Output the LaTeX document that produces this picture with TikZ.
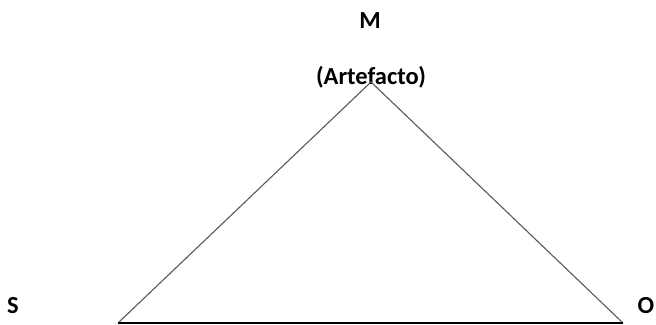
\documentclass[tikz,border=0pt]{standalone}
\usepackage{fontspec}
\setmainfont{Carlito}
\begin{document}
\begin{tikzpicture}[x=1pt,y=-1pt,
  lbl/.style={font=\bfseries\fontsize{24.5}{26}\selectfont, inner sep=0pt, anchor=base},
  edge/.style={draw=black!65, line width=1.1pt}]
\useasboundingbox (0,0) rectangle (656,324);
\node[lbl] (m) at (370,28) {M};
\node[lbl] (art) at (371,84) {(Artefacto)};
\node[lbl] (s) at (13,313) {S};
\node[lbl] (o) at (646,313) {O};
\coordinate (top) at (371,82);
\coordinate (bl) at (118,323);
\coordinate (br) at (623,323);
\draw[edge] (bl) -- (top) -- (br);
\draw[draw=black, line width=1.4pt] (bl) -- (br);
\end{tikzpicture}
\end{document}
